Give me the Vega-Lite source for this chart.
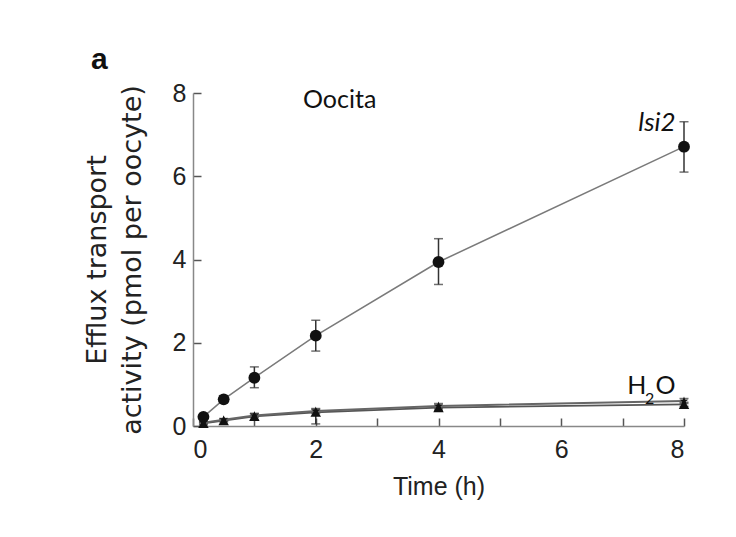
{
  "$schema": "https://vega.github.io/schema/vega-lite/v6.json",
  "autosize": {"type": "none"},
  "padding": {"left": 193, "top": 93, "right": 52, "bottom": 111},
  "width": 491,
  "height": 333,
  "background": "white",
  "title": {"text": "a", "anchor": "start", "frame": "group", "dx": -102, "offset": 6, "fontSize": 30, "fontWeight": "bold", "font": "Liberation Sans", "color": "#111"},
  "config": {"view": {"stroke": null}},
  "datasets": {
    "points": [
      {"series": "lsi2", "time": 0.17, "value": 0.22, "lo": 0.16, "hi": 0.29},
      {"series": "lsi2", "time": 0.5, "value": 0.64, "lo": 0.56, "hi": 0.73},
      {"series": "lsi2", "time": 1, "value": 1.16, "lo": 0.92, "hi": 1.42},
      {"series": "lsi2", "time": 2, "value": 2.17, "lo": 1.8, "hi": 2.54},
      {"series": "lsi2", "time": 4, "value": 3.94, "lo": 3.4, "hi": 4.5},
      {"series": "lsi2", "time": 8, "value": 6.71, "lo": 6.1, "hi": 7.31},
      {"series": "H2O-a", "time": 0.17, "value": 0.06, "lo": 0.03, "hi": 0.09},
      {"series": "H2O-a", "time": 0.5, "value": 0.13, "lo": 0.1, "hi": 0.16},
      {"series": "H2O-a", "time": 1, "value": 0.23, "lo": 0.15, "hi": 0.3},
      {"series": "H2O-a", "time": 2, "value": 0.33, "lo": 0.05, "hi": 0.4},
      {"series": "H2O-a", "time": 4, "value": 0.44, "lo": 0.38, "hi": 0.5},
      {"series": "H2O-a", "time": 8, "value": 0.52, "lo": 0.47, "hi": 0.57},
      {"series": "H2O-b", "time": 0.17, "value": 0.08, "lo": 0.06, "hi": 0.1},
      {"series": "H2O-b", "time": 0.5, "value": 0.15, "lo": 0.12, "hi": 0.18},
      {"series": "H2O-b", "time": 1, "value": 0.25, "lo": 0.2, "hi": 0.3},
      {"series": "H2O-b", "time": 2, "value": 0.36, "lo": 0.3, "hi": 0.42},
      {"series": "H2O-b", "time": 4, "value": 0.48, "lo": 0.42, "hi": 0.54},
      {"series": "H2O-b", "time": 8, "value": 0.6, "lo": 0.54, "hi": 0.66}
    ],
    "labels": [
      {"key": "Oocita", "text": "Oocita", "x": 2.39, "y": 7.84},
      {"key": "lsi2", "text": "lsi2", "x": 7.56, "y": 7.28},
      {"key": "H", "text": "H", "x": 7.23, "y": 0.96},
      {"key": "sub", "text": "2", "x": 7.44, "y": 0.64},
      {"key": "O", "text": "O", "x": 7.70, "y": 0.96}
    ]
  },
  "layer": [
    {
      "data": {"name": "points"},
      "mark": {"type": "rule", "color": "#333", "strokeWidth": 1.5},
      "encoding": {
        "x": {"field": "time", "type": "quantitative", "scale": {"domain": [0, 8], "nice": false},
          "axis": {"values": [0, 1, 2, 3, 4, 5, 6, 7, 8], "format": "d", "labelExpr": "datum.value % 2 == 0 ? datum.label : ''", "tickSize": -8, "tickColor": "#555", "tickWidth": 1.5, "domainColor": "#888", "domainWidth": 1.5, "grid": false, "labelFont": "Liberation Sans", "labelFontSize": 25, "labelColor": "#222", "labelPadding": 19, "title": "Time (h)", "titleFont": "Liberation Sans", "titleFontSize": 25, "titleFontWeight": "normal", "titleColor": "#222", "titlePadding": 12}},
        "y": {"field": "lo", "type": "quantitative", "scale": {"domain": [0, 8], "nice": false},
          "axis": {"values": [0, 2, 4, 6, 8], "format": "d", "tickSize": -8, "tickColor": "#555", "tickWidth": 1.5, "domainColor": "#888", "domainWidth": 1.5, "grid": false, "labelFont": "Liberation Sans", "labelFontSize": 25, "labelColor": "#222", "labelPadding": 15, "title": ["Efflux transport", "activity (pmol per oocyte)"], "titleFont": "DejaVu Sans", "titleFontSize": 27, "titleFontWeight": "normal", "titleColor": "#222", "titleLineHeight": 35, "titlePadding": 26}},
        "y2": {"field": "hi"}
      }
    },
    {
      "data": {"name": "points"},
      "mark": {"type": "tick", "orient": "horizontal", "color": "#333", "size": 9, "thickness": 1.5},
      "encoding": {
        "x": {"field": "time", "type": "quantitative"},
        "y": {"field": "hi", "type": "quantitative"}
      }
    },
    {
      "data": {"name": "points"},
      "mark": {"type": "tick", "orient": "horizontal", "color": "#333", "size": 9, "thickness": 1.5},
      "encoding": {
        "x": {"field": "time", "type": "quantitative"},
        "y": {"field": "lo", "type": "quantitative"}
      }
    },
    {
      "data": {"name": "points"},
      "mark": {"type": "line"},
      "encoding": {
        "x": {"field": "time", "type": "quantitative"},
        "y": {"field": "value", "type": "quantitative"},
        "detail": {"field": "series"},
        "color": {"field": "series", "type": "nominal", "scale": {"domain": ["lsi2", "H2O-a", "H2O-b"], "range": ["#7a7a7a", "#555555", "#666666"]}, "legend": null},
        "strokeWidth": {"field": "series", "type": "nominal", "scale": {"domain": ["lsi2", "H2O-a", "H2O-b"], "range": [1.5, 2, 2]}, "legend": null}
      }
    },
    {
      "data": {"name": "points"},
      "mark": {"type": "point", "filled": true, "color": "#111", "opacity": 1},
      "encoding": {
        "x": {"field": "time", "type": "quantitative"},
        "y": {"field": "value", "type": "quantitative"},
        "shape": {"field": "series", "type": "nominal", "scale": {"domain": ["lsi2", "H2O-a", "H2O-b"], "range": ["circle", "triangle-up", "M0,-1L0.235,-0.324L0.951,-0.309L0.38,0.124L0.588,0.809L0,0.4L-0.588,0.809L-0.38,0.124L-0.951,-0.309L-0.235,-0.324Z"]}, "legend": null},
        "size": {"field": "series", "type": "nominal", "scale": {"domain": ["lsi2", "H2O-a", "H2O-b"], "range": [140, 80, 90]}, "legend": null}
      }
    },
    {
      "data": {"name": "labels"},
      "transform": [{"filter": "datum.key == 'Oocita' || datum.key == 'H' || datum.key == 'O'"}],
      "mark": {"type": "text", "font": "Lato", "fontSize": 25, "color": "#111", "baseline": "middle", "align": "center"},
      "encoding": {
        "x": {"field": "x", "type": "quantitative"},
        "y": {"field": "y", "type": "quantitative"},
        "text": {"field": "text"}
      }
    },
    {
      "data": {"name": "labels"},
      "transform": [{"filter": "datum.key == 'lsi2'"}],
      "mark": {"type": "text", "font": "Lato", "fontSize": 26, "fontStyle": "italic", "color": "#111", "baseline": "middle", "align": "center"},
      "encoding": {
        "x": {"field": "x", "type": "quantitative"},
        "y": {"field": "y", "type": "quantitative"},
        "text": {"field": "text"}
      }
    },
    {
      "data": {"name": "labels"},
      "transform": [{"filter": "datum.key == 'sub'"}],
      "mark": {"type": "text", "font": "Lato", "fontSize": 16, "color": "#111", "baseline": "middle", "align": "center"},
      "encoding": {
        "x": {"field": "x", "type": "quantitative"},
        "y": {"field": "y", "type": "quantitative"},
        "text": {"field": "text"}
      }
    }
  ]
}
